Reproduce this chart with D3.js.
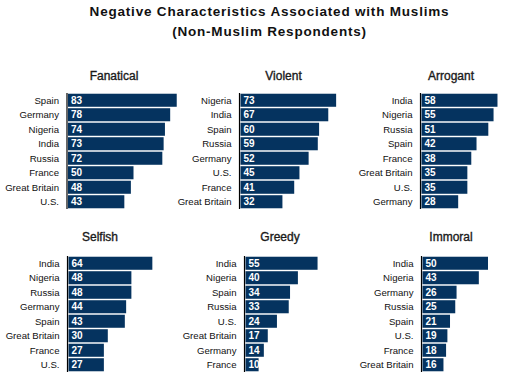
<!DOCTYPE html>
<html><head><meta charset="utf-8">
<script src="https://cdn.jsdelivr.net/npm/d3@7/dist/d3.min.js"></script>
<style>body{margin:0;background:#fff;} svg{display:block;}</style>
</head><body><div id="chart"></div>
<script>
const traits = ["Fanatical","Violent","Arrogant","Selfish","Greedy","Immoral"];
const fanaticalCountries = ["Spain","Germany","Nigeria","India","Russia","France","Great Britain","U.S."];
const fanaticalValues = [83,78,74,73,72,50,48,43];
const violentCountries = ["Nigeria","India","Spain","Russia","Germany","U.S.","France","Great Britain"];
const violentValues = [73,67,60,59,52,45,41,32];
const arrogantCountries = ["India","Nigeria","Russia","Spain","France","Great Britain","U.S.","Germany"];
const arrogantValues = [58,55,51,42,38,35,35,28];
const selfishCountries = ["India","Nigeria","Russia","Germany","Spain","Great Britain","France","U.S."];
const selfishValues = [64,48,48,44,43,30,27,27];
const greedyCountries = ["India","Nigeria","Spain","Russia","U.S.","Great Britain","Germany","France"];
const greedyValues = [55,40,34,33,24,17,14,10];
const immoralCountries = ["India","Nigeria","Germany","Russia","Spain","U.S.","France","Great Britain"];
const immoralValues = [50,43,26,25,21,19,18,16];

const countriesList = [fanaticalCountries,violentCountries,arrogantCountries,selfishCountries,greedyCountries,immoralCountries];
const valuesList = [fanaticalValues,violentValues,arrogantValues,selfishValues,greedyValues,immoralValues];

const W = 509, H = 377;
const svg = d3.select("#chart").append("svg").attr("width", W).attr("height", H)
  .style("font-family", "'Liberation Sans', Arial, sans-serif");

svg.append("text").attr("x", 269.5).attr("y", 16).attr("text-anchor","middle")
  .attr("font-size", 13.5).attr("font-weight","bold").attr("letter-spacing", 0.8).attr("fill","#111")
  .text("Negative Characteristics Associated with Muslims");
svg.append("text").attr("x", 269.5).attr("y", 35.5).attr("text-anchor","middle")
  .attr("font-size", 13.5).attr("font-weight","bold").attr("letter-spacing", 0.8).attr("fill","#111")
  .text("(Non-Muslim Respondents)");

// layout
const axisXs = [67, 239.5, 420.5, 67.5, 244.5, 421.5];
const titleXs = [114, 283.5, 451, 100, 280, 451];
const rowTop = [93, 256];
const rowTitleY = [80, 241];
const bandH = 116;

traits.forEach((t, i) => {
  const row = i < 3 ? 0 : 1;
  const ax = axisXs[i];
  const cs = countriesList[i], vs = valuesList[i];
  const data = cs.map((c, k) => ({c, v: vs[k]}));
  const y = d3.scaleBand().domain(cs).range([rowTop[row], rowTop[row] + bandH]).paddingInner(0.1).paddingOuter(0.05);
  const x = d3.scaleLinear().domain([0, 100]).range([ax + 1, ax + 132]);
  const g = svg.append("g");
  g.append("text").attr("x", titleXs[i]).attr("y", rowTitleY[row]).attr("text-anchor","middle")
    .attr("font-size", 12).attr("fill","#1a1a1a").attr("stroke","#1a1a1a").attr("stroke-width",0.35).text(t);
  g.selectAll("rect").data(data).join("rect")
    .attr("x", x(0)).attr("y", d => y(d.c)).attr("width", d => x(d.v) - x(0)).attr("height", y.bandwidth())
    .attr("fill", "#05335f");
  g.append("line").attr("x1", ax).attr("x2", ax).attr("y1", rowTop[row]).attr("y2", rowTop[row] + bandH)
    .attr("stroke", "#000").attr("stroke-width", 1.2);
  g.selectAll("text.cn").data(data).join("text").attr("class","cn")
    .attr("x", ax - 8).attr("y", d => y(d.c) + y.bandwidth()/2).attr("dy","0.35em")
    .attr("text-anchor","end").attr("font-size", 9.6).attr("fill","#111").text(d => d.c);
  g.selectAll("text.vl").data(data).join("text").attr("class","vl")
    .attr("x", x(0) + 3).attr("y", d => y(d.c) + y.bandwidth()/2).attr("dy","0.35em")
    .attr("font-size", 10).attr("font-weight","bold").attr("fill","#fff").text(d => d.v);
});
</script></body></html>
